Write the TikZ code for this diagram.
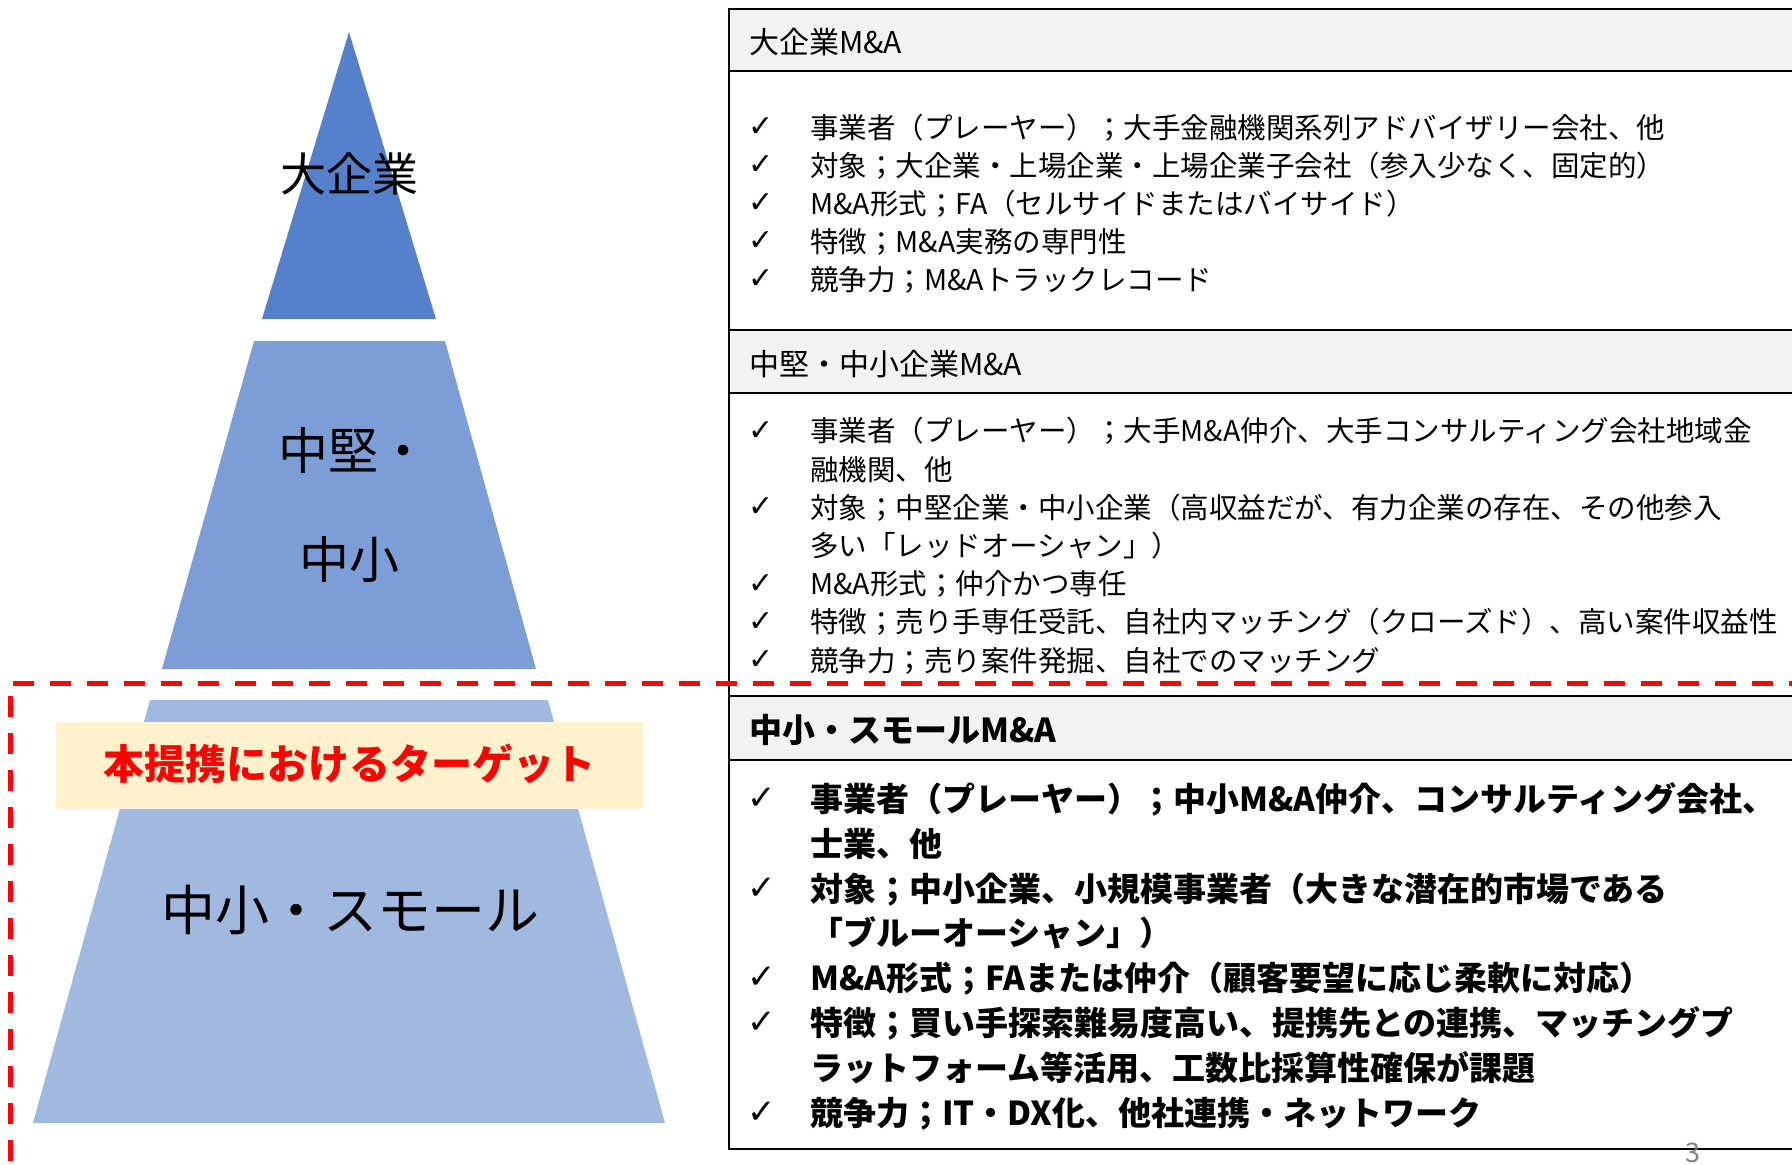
\documentclass[tikz,border=0pt]{standalone}
\usepackage{fontspec}
\setmainfont{Noto Sans CJK JP}
\newfontfamily\chkfont{DejaVu Sans}

\definecolor{topblue}{HTML}{5681CA}
\definecolor{midblue}{HTML}{7C9DD5}
\definecolor{lowblue}{HTML}{A1B8E1}
\definecolor{targetbg}{HTML}{FFF2CC}
\definecolor{headbg}{HTML}{F2F2F2}

\tikzset{
  body/.style={anchor=base west,inner sep=0pt,font=\fontsize{28.5}{34}\selectfont},
  bodybold/.style={anchor=base west,inner sep=0pt,font=\fontsize{33}{40}\selectfont\bfseries},
  chk/.style={inner sep=0pt,font=\chkfont\fontsize{30}{34}\selectfont},
  bigchk/.style={inner sep=0pt,font=\chkfont\fontsize{34}{38}\selectfont},
  lbl/.style={anchor=base,inner sep=0pt},
  rule/.style={line width=2.5pt},
}

\begin{document}
\begin{tikzpicture}[x=1pt,y=-1pt]
  % 画像サイズに合わせる
  \useasboundingbox (0,0) rectangle (1792,1165);

  % 座標確認用グリッド
  %\draw[step=100,lightgray] (0,0) grid (1792,1165);

  % ピラミッド
  \fill[topblue] (349,32) -- (436,319) -- (262,319) -- cycle;
  \fill[midblue] (254,341) -- (445,341) -- (536,669) -- (162,669) -- cycle;
  \fill[lowblue] (150,700) -- (548,700) -- (665,1123) -- (33,1123) -- cycle;
  \fill[targetbg] (56,722) rectangle (643,809);

  \node[lbl,font=\fontsize{46}{46}\selectfont] (large) at (349,191.5) {大企業};
  \node[lbl,font=\fontsize{50}{50}\selectfont] (mid1) at (353,469) {中堅・};
  \node[lbl,font=\fontsize{50}{50}\selectfont] (mid2) at (349,578) {中小};
  \node[lbl,font=\fontsize{41}{41}\selectfont\bfseries,text=red] (target) at (349,779.5) {本提携におけるターゲット};
  \node[lbl,font=\fontsize{54}{54}\selectfont] (small) at (350,930.5) {中小・スモール};

  % 表
  \fill[headbg] (729,9) rectangle (1800,71);
  \fill[headbg] (729,330) rectangle (1800,393);
  \fill[headbg] (729,696) rectangle (1800,760);
  \draw[rule] (1800,9) -- (729,9) -- (729,1149) -- (1800,1149);
  \foreach \y in {71,330,393,696,760}
    \draw[rule] (729,\y) -- (1800,\y);

  \node[body,font=\fontsize{30}{36}\selectfont] (h1) at (749,53.4) {大企業M\&A};
  \node[body,font=\fontsize{30}{36}\selectfont] (h2) at (749,375) {中堅・中小企業M\&A};
  \node[bodybold] (h3) at (749,742.5) {中小・スモールM\&A};

  % 大企業
  \foreach \y [count=\i] in {127,165,203,241,279}
    \node[chk] (ca\i) at (761,\y) {✓};
  \node[body] (a1) at (810,138) {事業者（プレーヤー）；大手金融機関系列アドバイザリー会社、他};
  \node[body] (a2) at (810,176) {対象；大企業・上場企業・上場企業子会社（参入少なく、固定的）};
  \node[body] (a3) at (810,214) {M\&A形式；FA（セルサイドまたはバイサイド）};
  \node[body] (a4) at (810,252) {特徴；M\&A実務の専門性};
  \node[body] (a5) at (810,290) {競争力；M\&Aトラックレコード};

  % 中堅・中小
  \foreach \y [count=\i] in {431,507.4,583.8,622,660.2}
    \node[chk] (cb\i) at (761,\y) {✓};
  \node[body] (b1) at (810,441.8) {事業者（プレーヤー）；大手M\&A仲介、大手コンサルティング会社地域金};
  \node[body] (b1x) at (810,480) {融機関、他};
  \node[body] (b2) at (810,518.2) {対象；中堅企業・中小企業（高収益だが、有力企業の存在、その他参入};
  \node[body] (b2x) at (810,556.4) {多い「レッドオーシャン」）};
  \node[body] (b3) at (810,594.6) {M\&A形式；仲介かつ専任};
  \node[body] (b4) at (810,632.8) {特徴；売り手専任受託、自社内マッチング（クローズド）、高い案件収益性};
  \node[body] (b5) at (810,671) {競争力；売り案件発掘、自社でのマッチング};

  % 中小・スモール
  \foreach \y [count=\i] in {799,888.6,978.2,1023,1112.6}
    \node[bigchk] (cc\i) at (762,\y) {✓};
  \node[bodybold] (c1) at (810,811.5) {事業者（プレーヤー）；中小M\&A仲介、コンサルティング会社、};
  \node[bodybold] (c1x) at (810,856.3) {士業、他};
  \node[bodybold] (c2) at (810,901.1) {対象；中小企業、小規模事業者（大きな潜在的市場である};
  \node[bodybold] (c2x) at (810,945.9) {「ブルーオーシャン」）};
  \node[bodybold] (c3) at (810,990.7) {M\&A形式；FAまたは仲介（顧客要望に応じ柔軟に対応）};
  \node[bodybold] (c4) at (810,1035.5) {特徴；買い手探索難易度高い、提携先との連携、マッチングプ};
  \node[bodybold] (c4x) at (810,1080.3) {ラットフォーム等活用、工数比採算性確保が課題};
  \node[bodybold] (c5) at (810,1125.1) {競争力；IT・DX化、他社連携・ネットワーク};

  % ページ番号
  \node[lbl,font=\fontsize{27}{27}\selectfont,text=gray] (page) at (1693,1162) {3};

  % ターゲット範囲
  \draw[red,line width=5pt,dash pattern=on 21pt off 16pt] (1810,683) -- (10,683) -- (10,1167.5) -- (1810,1167.5);
\end{tikzpicture}
\end{document}
